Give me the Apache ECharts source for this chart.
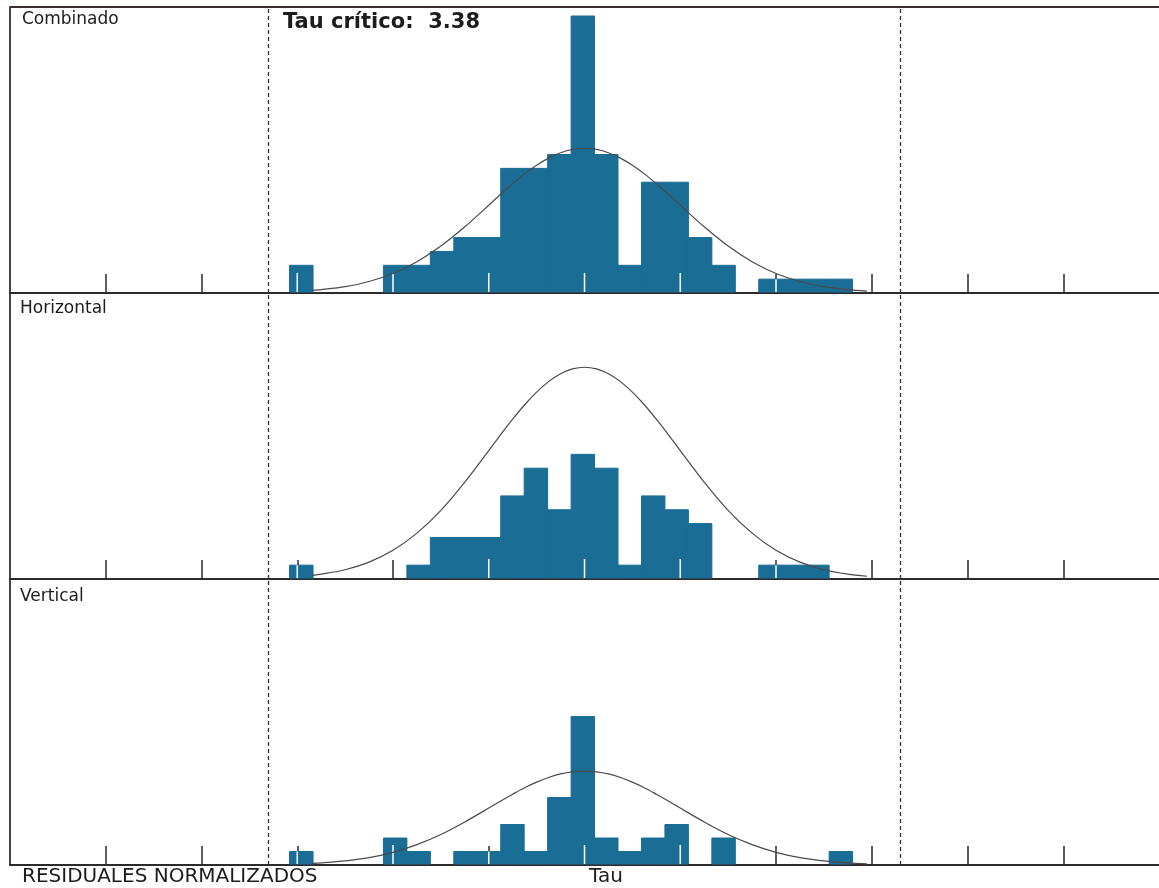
<!DOCTYPE html>
<html>
<head>
<meta charset="utf-8">
<script src="https://cdn.jsdelivr.net/npm/echarts@6/dist/echarts.min.js"></script>
<style>
html,body{margin:0;padding:0;background:#fff;}
#chart{width:1159px;height:888px;}
</style>
</head>
<body>
<div id="chart"></div>
<script>
// ---- Data ----
const panelNames = ['Combinado', 'Horizontal', 'Vertical'];
const tauCritico = 3.38;           // value shown in the title
const critLinePos = 3.3;           // where the dashed critical lines are drawn
const binStart = -3.08;            // left edge of the first histogram bin
const binWidth = 0.245;            // width of each bin (24 bins)
const countsCombinado  = [2,0,0,0,2,2,3,4,4,9,9,10,20,10,2,8,8,4,2,0,1,1,1,1];
const countsHorizontal = [1,0,0,0,0,1,3,3,3,6,8,5,9,8,1,6,5,4,0,0,1,1,1,0];
const countsVertical   = [1,0,0,0,2,1,0,1,1,3,1,5,11,2,1,2,3,0,2,0,0,0,0,1];
const curveX          = [-2.85,-2.75,-2.5,-2.25,-2,-1.75,-1.5,-1.25,-1,-0.875,-0.75,-0.625,-0.5,-0.375,-0.25,-0.125,0,0.125,0.25,0.375,0.5,0.625,0.75,0.875,1,1.25,1.5,1.75,2,2.25,2.5,2.75,2.95];
const curveCombinado  = [0.18,0.24,0.46,0.83,1.41,2.26,3.39,4.78,6.34,7.13,7.89,8.60,9.22,9.74,10.13,10.37,10.45,10.37,10.13,9.74,9.22,8.60,7.89,7.13,6.34,4.78,3.39,2.26,1.41,0.83,0.46,0.24,0.13];
const curveHorizontal = [0.26,0.35,0.67,1.22,2.07,3.31,4.96,7.00,9.27,10.43,11.54,12.58,13.49,14.25,14.82,15.17,15.29,15.17,14.82,14.25,13.49,12.58,11.54,10.43,9.27,7.00,4.96,3.31,2.07,1.22,0.67,0.35,0.20];
const curveVertical   = [0.12,0.16,0.31,0.55,0.94,1.51,2.26,3.19,4.22,4.75,5.25,5.73,6.14,6.49,6.75,6.91,6.96,6.91,6.75,6.49,6.14,5.73,5.25,4.75,4.22,3.19,2.26,1.51,0.94,0.55,0.31,0.16,0.09];
const tickValues = [-5,-4,-3,-2,-1,0,1,2,3,4,5];
const xMin = -6, xMax = 6, xInterval = 1;
const yMaxes = [20.65, 20.65, 21.2];
const axisTitle = 'RESIDUALES NORMALIZADOS';
const xName = 'Tau';

// ---- Styling ----
const barColor = '#1a6d95';
const dark = '#2e2a2a';

const counts = [countsCombinado, countsHorizontal, countsVertical];
const curves = [curveCombinado, curveHorizontal, curveVertical];

const grids = [
  {left: 10, width: 1153, top: 7, height: 286},
  {left: 10, width: 1153, top: 293, height: 286},
  {left: 10, width: 1153, top: 579, height: 286}
];

function renderBars(params, api) {
  const c = api.value(1);
  if (!c) return;
  const x = api.value(0);
  const tl = api.coord([x - binWidth / 2, c]);
  const br = api.coord([x + binWidth / 2, 0]);
  const base = br[1] - 1;
  const h = base - tl[1];
  const children = [{
    type: 'rect',
    shape: {x: tl[0], y: tl[1], width: br[0] - tl[0], height: h},
    style: {fill: barColor, stroke: barColor, lineWidth: 1}
  }];
  tickValues.forEach(k => {
    if (k >= x - binWidth / 2 && k <= x + binWidth / 2) {
      const t = api.coord([k, 0]);
      const th = Math.min(19, h);
      children.push({
        type: 'line',
        shape: {x1: t[0], y1: base, x2: t[0], y2: base - th},
        style: {stroke: '#ffffff', lineWidth: 1.5}
      });
    }
  });
  return {type: 'group', children: children};
}

const xAxes = grids.map((g, i) => ({
  type: 'value', gridIndex: i, min: xMin, max: xMax, interval: xInterval,
  axisLine: {show: true, onZero: false, lineStyle: {color: dark, width: 2}},
  axisTick: {show: true, inside: true, length: 19, customValues: tickValues, lineStyle: {color: dark, width: 1.5}},
  axisLabel: {show: false},
  splitLine: {show: false}
}));
const yAxes = grids.map((g, i) => ({
  type: 'value', gridIndex: i, min: 0, max: yMaxes[i], position: 'left',
  axisLine: {show: true, onZero: false, lineStyle: {color: '#444', width: 2}},
  axisTick: {show: false}, axisLabel: {show: false}, splitLine: {show: false}
}));

const series = [];
counts.forEach((arr, i) => {
  series.push({
    type: 'custom', xAxisIndex: i, yAxisIndex: i, z: 2,
    renderItem: renderBars,
    encode: {x: 0, y: 1},
    data: arr.map((c, k) => [binStart + binWidth * (k + 0.5), c]),
    silent: true
  });
  series.push({
    type: 'line', xAxisIndex: i, yAxisIndex: i, z: 4,
    smooth: 0.3, showSymbol: false, silent: true,
    lineStyle: {color: '#4a4a4a', width: 1.2},
    data: curveX.map((x, k) => [x, curves[i][k]]),
    markLine: {
      silent: true, symbol: 'none', label: {show: false},
      lineStyle: {type: [4, 3], color: '#333', width: 1.3},
      data: [{xAxis: -critLinePos}, {xAxis: critLinePos}]
    }
  });
});

function txt(text, left, top, size, weight) {
  return {
    type: 'text', left: left, top: top, z: 20,
    style: {text: text, fill: '#1c1c1c', fontFamily: 'DejaVu Sans', fontSize: size, fontWeight: weight || 'normal'}
  };
}
const graphic = [
  {type: 'line', shape: {x1: 10, y1: 7, x2: 1159, y2: 7}, style: {stroke: '#3a2f2f', lineWidth: 2}, z: 10},
  txt(panelNames[0], 22, 11, 17),
  txt(panelNames[1], 20, 300, 17),
  txt(panelNames[2], 20, 588, 17),
  txt('Tau crítico:  ' + tauCritico.toFixed(2), 283, 12, 21, 'bold'),
  txt(axisTitle, 22, 867, 20),
  txt(xName, 589, 867, 20)
];

const chart = echarts.init(document.getElementById('chart'), null, {renderer: 'canvas'});
chart.setOption({
  animation: false,
  backgroundColor: '#ffffff',
  grid: grids,
  xAxis: xAxes,
  yAxis: yAxes,
  series: series,
  graphic: graphic
});
</script>
</body>
</html>
